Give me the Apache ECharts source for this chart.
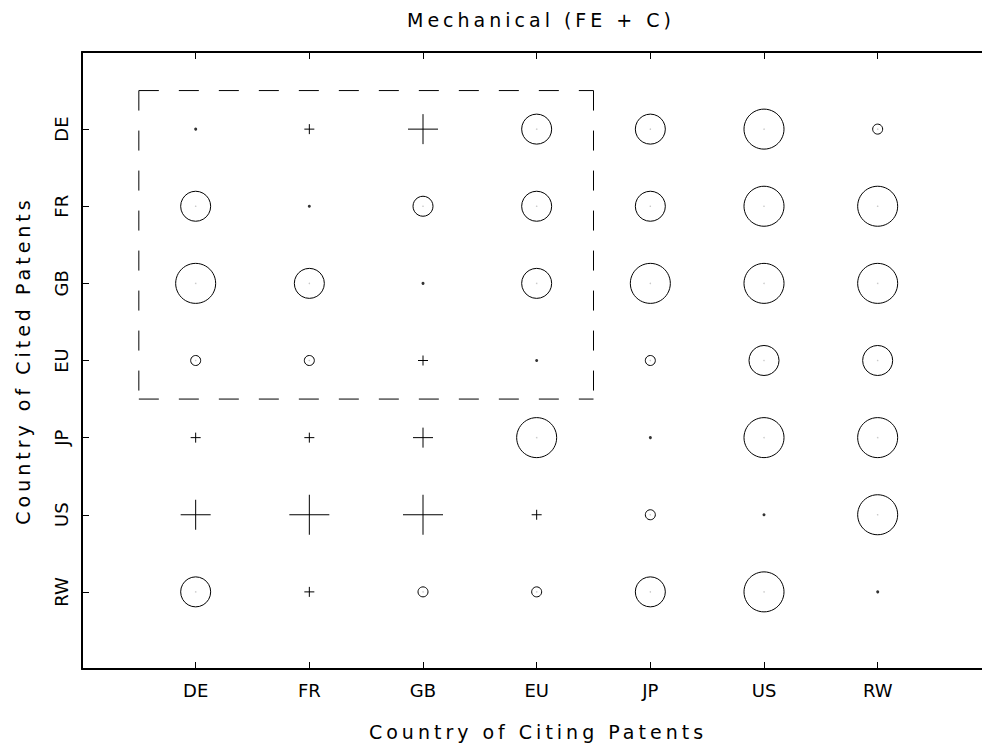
<!DOCTYPE html>
<html>
<head>
<meta charset="utf-8">
<script src="https://cdn.jsdelivr.net/npm/echarts@6/dist/echarts.min.js"></script>
<style>
  html, body { margin: 0; padding: 0; background: #fff; overflow: hidden; }
  #chart { width: 982px; height: 753px; }
  #chart text[style*="19px"] { letter-spacing: 4px; }
</style>
</head>
<body>
<div id="chart"></div>
<script>
// Categories
const citing = ['DE', 'FR', 'GB', 'EU', 'JP', 'US', 'RW'];
const cited  = ['DE', 'FR', 'GB', 'EU', 'JP', 'US', 'RW'];

// Signed size class per cited country (row), listed over citing countries (columns).
// positive = circle, negative = plus, 0 = own-country dot
const citedDE = [ 0, -1, -3,  3,  3,  4,  1];
const citedFR = [ 3,  0,  2,  3,  3,  4,  4];
const citedGB = [ 4,  3,  0,  3,  4,  4,  4];
const citedEU = [ 1,  1, -1,  0,  1,  3,  3];
const citedJP = [-1, -1, -2,  4,  0,  4,  4];
const citedUS = [-3, -4, -4, -1,  1,  0,  4];
const citedRW = [ 3, -1,  1,  1,  3,  4,  0];
const rows = [citedDE, citedFR, citedGB, citedEU, citedJP, citedUS, citedRW];

// European block framed by the dashed box
const block = ['DE', 'FR', 'GB', 'EU'];

const titleText = 'Mechanical (FE + C)';
const xName = 'Country of Citing Patents';
const yName = 'Country of Cited Patents';

const circles = [], pluses = [], dots = [];
rows.forEach((row, i) => {
  row.forEach((v, j) => {
    if (v > 0) circles.push([j, i, v]);
    else if (v < 0) pluses.push([j, i, -v]);
    else dots.push([j, i, 0]);
  });
});

const lo = -0.5, hi = block.length - 0.5;
const boxEdges = [
  [[lo, lo], [hi, lo]],
  [[lo, lo], [lo, hi]],
  [[hi, lo], [hi, hi]],
  [[lo, hi], [hi, hi]]
];

const idx = citing.map((_, i) => i);
const FONT = "'DejaVu Sans', sans-serif";
const UNIT = 10;

const chart = echarts.init(document.getElementById('chart'), null, { renderer: 'svg' });

const axisCommon = {
  type: 'value',
  axisLine: { show: true, onZero: false, lineStyle: { color: '#000', width: 2 } },
  axisTick: { show: true, inside: true, length: 7, customValues: idx, lineStyle: { color: '#000', width: 1 } },
  splitLine: { show: false },
  minorTick: { show: false }
};

const option = {
  animation: false,
  backgroundColor: '#fff',
  title: {
    text: titleText,
    left: 536,
    textAlign: 'center',
    top: 5,
    textStyle: { fontFamily: FONT, fontSize: 19, fontWeight: 'normal', color: '#000' }
  },
  grid: { left: 82, top: 52, width: 1023, height: 617, outerBoundsMode: 'none', containLabel: false },
  xAxis: [
    Object.assign({}, axisCommon, {
      position: 'bottom',
      min: -1, max: 8,
      axisLabel: {
        customValues: idx, margin: 12,
        fontFamily: FONT, fontSize: 18, color: '#000',
        formatter: v => citing[v]
      }
    }),
    Object.assign({}, axisCommon, {
      position: 'top',
      min: -1, max: 8,
      axisLabel: { show: false }
    })
  ],
  yAxis: [
    Object.assign({}, axisCommon, {
      position: 'left',
      min: -1, max: 7,
      inverse: true,
      name: yName,
      nameLocation: 'middle',
      nameGap: 50,
      nameTextStyle: { fontFamily: FONT, fontSize: 19, color: '#000' },
      axisLabel: {
        customValues: idx, margin: 12, rotate: 90,
        fontFamily: FONT, fontSize: 18, color: '#000',
        formatter: v => cited[v]
      }
    })
  ],
  graphic: [
    {
      // x-axis title, centred under the visible plot (the frame runs off the right edge)
      type: 'text',
      x: 538,
      y: 722,
      silent: true,
      style: { text: xName, fontFamily: FONT, fontSize: 19, fill: '#000', align: 'center', verticalAlign: 'top' }
    }
  ],
  series: [
    {
      type: 'scatter', silent: true,
      data: circles,
      symbol: 'circle',
      symbolSize: d => d[2] * UNIT,
      itemStyle: { color: 'rgba(0,0,0,0)', borderColor: '#000', borderWidth: 1, opacity: 1 }
    },
    {
      type: 'scatter', silent: true,
      data: circles,
      symbol: 'circle',
      symbolSize: 1.5,
      itemStyle: { color: '#bbb' }
    },
    {
      type: 'scatter', silent: true,
      data: pluses,
      symbol: 'path://M5,0L5,10M0,5L10,5',
      symbolSize: d => d[2] * UNIT,
      itemStyle: { color: 'rgba(0,0,0,0)', borderColor: '#000', borderWidth: 1, opacity: 1 }
    },
    {
      type: 'scatter', silent: true,
      data: dots,
      symbol: 'circle',
      symbolSize: 3,
      itemStyle: { color: '#000' }
    }
  ].concat(boxEdges.map(edge => ({
    type: 'line', silent: true,
    data: edge,
    symbol: 'none',
    lineStyle: { color: '#000', width: 1, type: [20, 20] }
  })))
};

chart.setOption(option);
</script>
</body>
</html>
